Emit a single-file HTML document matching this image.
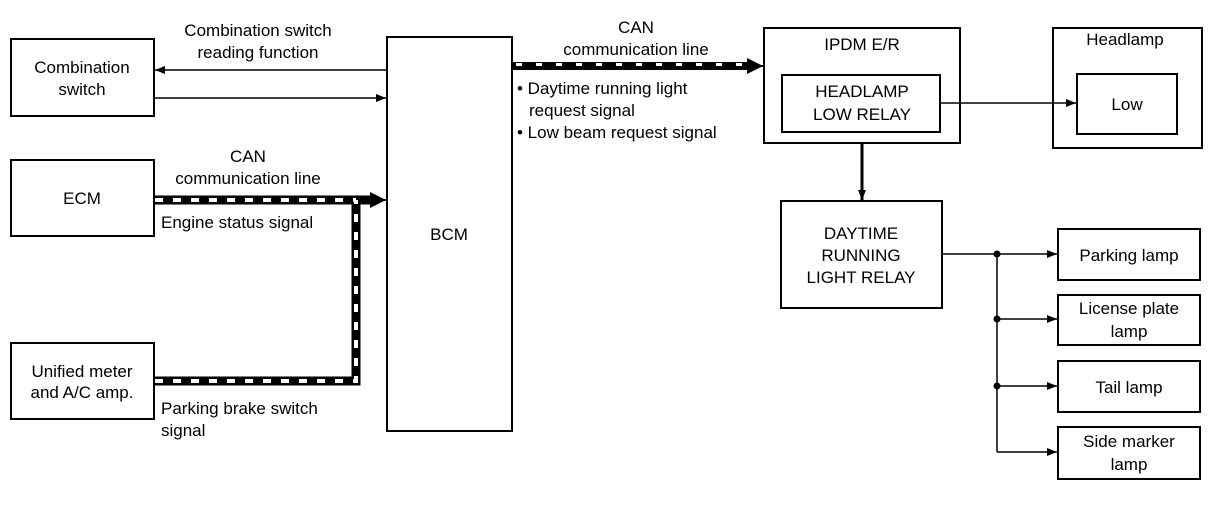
<!DOCTYPE html>
<html><head><meta charset="utf-8"><style>
html,body{margin:0;padding:0;background:#fff}
svg{display:block}
text{font-family:"Liberation Sans",Arial,sans-serif;font-size:17px;fill:#000}
</style></head><body>
<svg width="1216" height="512" viewBox="0 0 1216 512" xmlns="http://www.w3.org/2000/svg">
<defs>
<marker id="a" viewBox="0 0 10 10" refX="10" refY="5" markerWidth="14" markerHeight="10" markerUnits="userSpaceOnUse" orient="auto"><path d="M0,1 L10,5 L0,9 z" fill="#000"/></marker>
<marker id="b" viewBox="0 0 10 10" refX="10" refY="5" markerWidth="22" markerHeight="16" markerUnits="userSpaceOnUse" orient="auto"><path d="M0,0 L10,5 L0,10 z" fill="#000"/></marker>
</defs>
<g fill="none" stroke="#000" stroke-width="2">
<rect x="11" y="39" width="143" height="77"/>
<rect x="11" y="160" width="143" height="76"/>
<rect x="11" y="343" width="143" height="76"/>
<rect x="387" y="37" width="125" height="394"/>
<rect x="764" y="28" width="196" height="115"/>
<rect x="782" y="75" width="158" height="57"/>
<rect x="1053" y="28" width="149" height="120"/>
<rect x="1077" y="74" width="100" height="60"/>
<rect x="781" y="201" width="161" height="107"/>
<rect x="1058" y="229" width="142" height="51"/>
<rect x="1058" y="295" width="142" height="50"/>
<rect x="1058" y="361" width="142" height="51"/>
<rect x="1058" y="427" width="142" height="52"/>
</g>
<g stroke="#000" stroke-width="1.5" fill="none">
<line x1="387" y1="70" x2="155" y2="70" marker-end="url(#a)"/>
<line x1="154" y1="98" x2="386" y2="98" marker-end="url(#a)"/>
<line x1="940" y1="103" x2="1076" y2="103" marker-end="url(#a)"/>
<line x1="942" y1="254" x2="997" y2="254"/>
<line x1="997" y1="254" x2="997" y2="452"/>
<line x1="997" y1="254" x2="1057" y2="254" marker-end="url(#a)"/>
<line x1="997" y1="319" x2="1057" y2="319" marker-end="url(#a)"/>
<line x1="997" y1="386" x2="1057" y2="386" marker-end="url(#a)"/>
<line x1="997" y1="452" x2="1057" y2="452" marker-end="url(#a)"/>
</g>
<line x1="862" y1="143" x2="862" y2="200" stroke="#000" stroke-width="3" marker-end="url(#a)"/>
<g fill="#000"><circle cx="997" cy="254" r="3.5"/><circle cx="997" cy="319" r="3.5"/><circle cx="997" cy="386" r="3.5"/></g>
<g fill="none" stroke-linejoin="miter">
<path d="M155,381 H356 V200" stroke="#000" stroke-width="9"/>
<path d="M155,200 H372" stroke="#000" stroke-width="9"/>
<path d="M155,381 H356 V200 M155,200 H356" stroke="#fff" stroke-width="4" stroke-dasharray="8,10"/>
<line x1="370" y1="200" x2="386" y2="200" stroke="#000" stroke-width="2" marker-end="url(#b)"/>
<path d="M512,66 H748" stroke="#000" stroke-width="8"/>
<path d="M516,64.5 H746" stroke="#fff" stroke-width="3" stroke-dasharray="6,14"/>
<line x1="744" y1="66" x2="763" y2="66" stroke="#000" stroke-width="2" marker-end="url(#b)"/>
</g>
<g text-anchor="middle">
<text x="82" y="73">Combination</text>
<text x="82" y="95">switch</text>
<text x="82" y="204">ECM</text>
<text x="82" y="377">Unified meter</text>
<text x="82" y="398">and A/C amp.</text>
<text x="258" y="36">Combination switch</text>
<text x="258" y="58">reading function</text>
<text x="248" y="162">CAN</text>
<text x="248" y="184">communication line</text>
<text x="449" y="240">BCM</text>
<text x="636" y="33">CAN</text>
<text x="636" y="55">communication line</text>
<text x="862" y="50">IPDM E/R</text>
<text x="862" y="97">HEADLAMP</text>
<text x="862" y="120">LOW RELAY</text>
<text x="1125" y="45">Headlamp</text>
<text x="1127" y="110">Low</text>
<text x="861" y="239">DAYTIME</text>
<text x="861" y="261">RUNNING</text>
<text x="861" y="283">LIGHT RELAY</text>
<text x="1129" y="261">Parking lamp</text>
<text x="1129" y="314">License plate</text>
<text x="1129" y="337">lamp</text>
<text x="1129" y="393">Tail lamp</text>
<text x="1129" y="447">Side marker</text>
<text x="1129" y="470">lamp</text>
</g>
<text x="161" y="228">Engine status signal</text>
<text x="161" y="414">Parking brake switch</text>
<text x="161" y="436">signal</text>
<text x="517" y="94">• Daytime running light</text>
<text x="529" y="116">request signal</text>
<text x="517" y="138">• Low beam request signal</text>
</svg>
</body></html>
